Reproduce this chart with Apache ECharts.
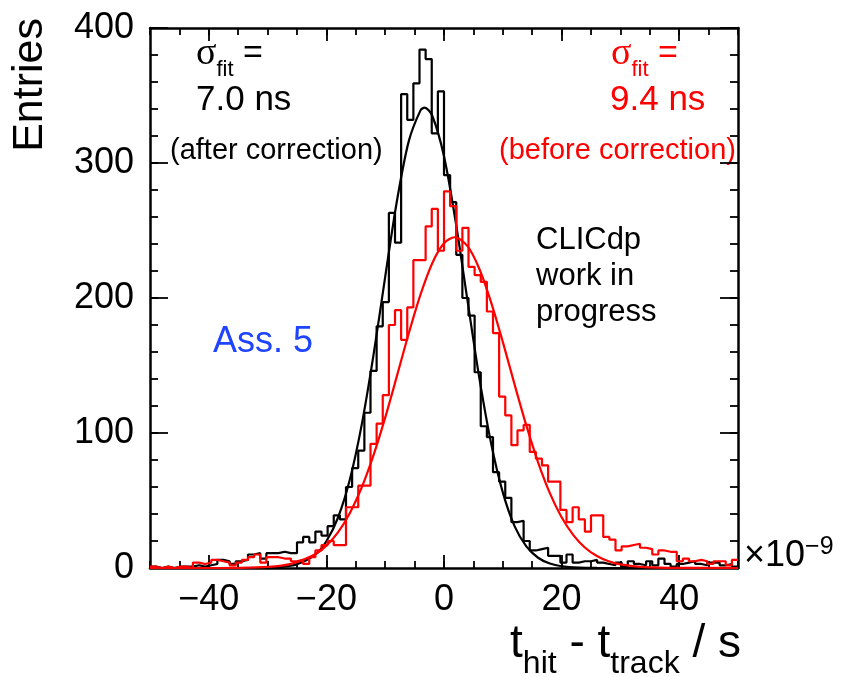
<!DOCTYPE html>
<html>
<head>
<meta charset="utf-8">
<script src="https://cdn.jsdelivr.net/npm/echarts@6.0.0/dist/echarts.min.js"></script>
<style>
  html, body { margin: 0; padding: 0; background: #fff; }
  #chart { width: 844px; height: 677px; }
</style>
</head>
<body>
<div id="chart"></div>
<script>
// histogram range, 96 bins from -50 to 50 (x 1e-9 s)
const xMin = -50;
const xMax = 50;

// after correction (black), one value per bin, left to right
const blackCounts = [
  1, 0, 1, 0, 1, 1, 1, 2, 1, 2, 3, 6,
  5, 3, 5, 6, 10, 11, 7, 11, 11, 12, 11, 11,
  19, 23, 19, 27, 24, 31, 39, 36, 60, 74, 87, 115,
  146, 179, 197, 263, 241, 351, 332, 359, 384, 377, 322, 353,
  291, 271, 232, 200, 187, 145, 105, 97, 71, 64, 52, 34,
  35, 20, 13, 14, 15, 9, 9, 4, 10, 4, 5, 5,
  6, 4, 3, 2, 4, 1, 5, 3, 2, 5, 2, 7,
  3, 1, 3, 4, 5, 3, 2, 4, 4, 2, 3, 1
];

// before correction (red)
const redCounts = [
  1, 0, 1, 0, 1, 1, 0, 4, 3, 4, 6, 5,
  4, 2, 4, 6, 8, 10, 4, 8, 8, 7, 7, 5,
  6, 3, 8, 13, 17, 20, 17, 17, 45, 45, 61, 61,
  92, 107, 128, 180, 191, 169, 193, 228, 228, 253, 266, 235,
  279, 268, 235, 252, 223, 217, 212, 190, 174, 127, 113, 91,
  102, 106, 86, 81, 76, 64, 64, 43, 34, 45, 36, 27,
  39, 39, 23, 21, 13, 16, 17, 18, 15, 14, 10, 13,
  12, 12, 5, 7, 5, 6, 5, 3, 5, 5, 2, 6
];

// fitted curves
const blackFitT = [-50, -40, -34, -30, -27, -25, -22, -20, -18, -16, -14, -12, -10, -8, -6, -4, -3.3, -2, 0, 2, 4, 6, 8, 10, 12, 14, 16, 18, 20, 23, 26, 30, 40, 50];
const blackFitN = [0, 0, 0, 0.2, 1.1, 2.8, 9.6, 19.8, 37.6, 65.7, 106, 157.5, 215.7, 272, 316, 339, 341, 335, 305, 256, 198, 141, 92.6, 56, 31, 16, 7.6, 3.3, 1.3, 0.3, 0.05, 0, 0, 0];

const redFitT = [-50, -40, -35, -30, -26, -22, -20, -18, -16, -14, -12, -10, -8, -6, -4, -2, 0, 1.8, 4, 6, 8, 10, 12, 14, 16, 18, 20, 22, 24, 26, 28, 30, 34, 40, 50];
const redFitN = [0, 0, 0.1, 0.8, 3.1, 10, 16.6, 26.6, 40.8, 59.6, 83.4, 111.4, 142.3, 173.7, 202.5, 225.8, 240.5, 245, 238.4, 221.7, 197, 167.5, 136, 105.6, 78.3, 55.5, 37.6, 24.4, 15, 8.9, 5, 2.7, 0.7, 0.1, 0];

// tick labels
const xLabelValues = [-40, -20, 0, 20, 40];
const yLabelValues = [0, 100, 200, 300, 400];

const FONT = '"Liberation Sans", Arial, Helvetica, sans-serif';
const RED = "#ff0000";
const BLUE = "#1f44ff";

function histPoints(counts) {
  const w = (xMax - xMin) / counts.length;
  const pts = counts.map((c, k) => [xMin + k * w, c]);
  pts.push([xMax, counts[counts.length - 1]]);
  return pts;
}

function curvePoints(t, n) {
  return t.map((v, i) => [v, n[i]]);
}

function minus(v) {
  return String(v).replace("-", "\u2212");
}

function xAxisDef(pos, major, withLabels) {
  return {
    type: "value",
    position: pos,
    min: xMin,
    max: xMax,
    interval: 5,
    axisLine: { show: !major, onZero: false, lineStyle: { color: "#000", width: 2.5 } },
    axisTick: major
      ? { show: true, inside: true, length: 13, customValues: xLabelValues, lineStyle: { color: "#000", width: 1.8 } }
      : { show: true, inside: true, length: 7, lineStyle: { color: "#000", width: 1.8 } },
    axisLabel: withLabels
      ? {
          show: true,
          margin: 14,
          color: "#000",
          fontSize: 36,
          fontFamily: FONT,
          formatter: (v) => (xLabelValues.indexOf(v) >= 0 ? minus(v) : ""),
        }
      : { show: false },
    splitLine: { show: false },
  };
}

function yAxisDef(pos, major, withLabels) {
  return {
    type: "value",
    position: pos,
    min: 0,
    max: 400,
    interval: major ? 100 : 20,
    axisLine: { show: !major, onZero: false, lineStyle: { color: "#000", width: 2.5 } },
    axisTick: { show: true, inside: true, length: major ? 18 : 8, lineStyle: { color: "#000", width: 1.8 } },
    axisLabel: withLabels
      ? {
          show: true,
          margin: 16,
          color: "#000",
          fontSize: 36,
          fontFamily: FONT,
          formatter: (v) => (yLabelValues.indexOf(v) >= 0 ? String(v) : ""),
        }
      : { show: false },
    splitLine: { show: false },
  };
}

function lineSeries(data, color, isStep) {
  return {
    type: "line",
    data: data,
    step: isStep ? "end" : false,
    smooth: isStep ? false : 0.3,
    showSymbol: false,
    symbol: "none",
    clip: true,
    lineStyle: { color: color, width: 2.2 },
    xAxisIndex: 0,
    yAxisIndex: 0,
  };
}

function txt(x, y, text, size, color, extra) {
  return Object.assign(
    {
      type: "text",
      x: x,
      y: y,
      silent: true,
      style: {
        text: text,
        fill: color,
        font: size + "px " + FONT,
        align: "left",
        verticalAlign: "middle",
      },
    },
    extra || {}
  );
}

function sigmaLabel(x, y, color) {
  return {
    type: "text",
    x: x,
    y: y,
    silent: true,
    style: {
      text: "{g|\u03c3}{s|fit}{m| =}",
      align: "left",
      verticalAlign: "middle",
      fill: color,
      rich: {
        g: { fontFamily: '"Liberation Serif", serif', fontSize: 38, fill: color },
        s: { fontFamily: FONT, fontSize: 22, lineHeight: 22, padding: [32, 0, 0, 0], fill: color },
        m: { fontFamily: FONT, fontSize: 34, fill: color },
      },
    },
  };
}

const chart = echarts.init(document.getElementById("chart"), null, { renderer: "canvas" });

const option = {
  animation: false,
  backgroundColor: "#fff",
  grid: { left: 150, right: 106, top: 28, bottom: 109, containLabel: false },
  xAxis: [
    xAxisDef("bottom", false, true),
    xAxisDef("bottom", true, false),
    xAxisDef("top", false, false),
    xAxisDef("top", true, false),
  ],
  yAxis: [
    yAxisDef("left", false, true),
    yAxisDef("left", true, false),
    yAxisDef("right", false, false),
    yAxisDef("right", true, false),
  ],
  series: [
    lineSeries(histPoints(blackCounts), "#000", true),
    lineSeries(curvePoints(blackFitT, blackFitN), "#000", false),
    lineSeries(histPoints(redCounts), RED, true),
    lineSeries(curvePoints(redFitT, redFitN), RED, false),
  ],
  graphic: [
    // y axis title
    txt(30, 18, "Entries", 43, "#000", {
      rotation: Math.PI / 2,
      style: { text: "Entries", fill: "#000", font: "43px " + FONT, align: "right", verticalAlign: "middle" },
    }),
    // x axis title
    {
      type: "text",
      x: 741,
      y: 644,
      silent: true,
      style: {
        text: "{m|t}{s|hit}{m| - t}{s|track}{m| / s}",
        align: "right",
        verticalAlign: "middle",
        fill: "#000",
        rich: {
          m: { fontFamily: FONT, fontSize: 46, fill: "#000" },
          s: { fontFamily: FONT, fontSize: 32, lineHeight: 32, padding: [40, 0, 0, 0], fill: "#000" },
        },
      },
    },
    // exponent of the x axis
    {
      type: "text",
      x: 744,
      y: 556,
      silent: true,
      style: {
        text: "{m|\u00d710}{p|\u22129}",
        align: "left",
        verticalAlign: "middle",
        fill: "#000",
        rich: {
          m: { fontFamily: FONT, fontSize: 36, fill: "#000" },
          p: { fontFamily: FONT, fontSize: 25, lineHeight: 25, padding: [0, 0, 17, 0], fill: "#000" },
        },
      },
    },
    sigmaLabel(196, 54, "#000"),
    txt(196, 100, "7.0 ns", 35, "#000"),
    txt(170, 151, "(after correction)", 29, "#000"),
    sigmaLabel(611, 54, RED),
    txt(610, 100, "9.4 ns", 35, RED),
    txt(499, 151, "(before correction)", 29, RED),
    txt(536, 240, "CLICdp", 31, "#000"),
    txt(536, 276, "work in", 31, "#000"),
    txt(536, 312, "progress", 31, "#000"),
    txt(213, 342, "Ass. 5", 36, BLUE),
  ],
};

chart.setOption(option);
</script>
</body>
</html>
